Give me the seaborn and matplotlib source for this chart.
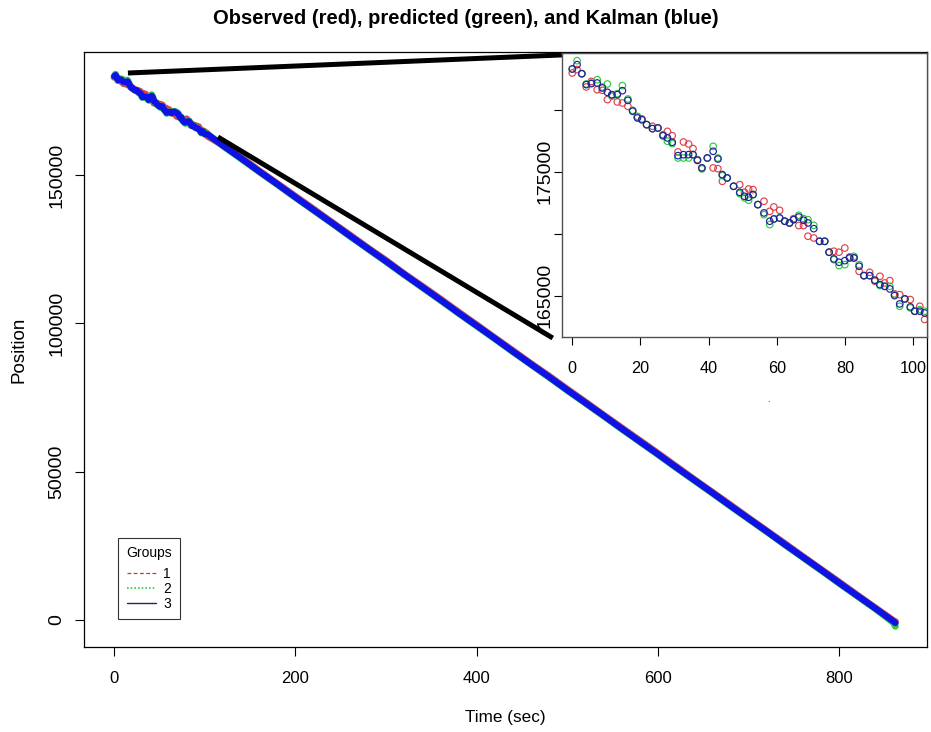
import numpy as np
import pandas as pd
import matplotlib
matplotlib.use("Agg")
import matplotlib.pyplot as plt
from matplotlib.lines import Line2D
import seaborn as sns

sns.set_theme(style="white")
plt.rcParams['font.family'] = ['Liberation Sans', 'DejaVu Sans']
plt.rcParams['text.color'] = 'black'
plt.rcParams['axes.labelcolor'] = 'black'
plt.rcParams['xtick.color'] = 'black'
plt.rcParams['ytick.color'] = 'black'

# ---- first ~100 s of the track (shown in the close-up) ----
time_head = [0.0, 1.4, 2.8, 4.1, 5.6, 7.3, 8.8, 10.3, 11.6, 13.2, 14.7, 16.3, 17.7, 19.1,
             20.4, 21.8, 23.5, 25.1, 26.6, 27.9, 29.3, 31.0, 32.6, 34.1, 35.4, 36.7, 38.0,
             39.6, 41.3, 42.7, 44.0, 45.4, 47.3, 49.1, 50.5, 51.7, 53.0, 54.4, 56.2, 57.9,
             59.1, 60.8, 62.3, 63.7, 64.9, 66.4, 67.8, 69.1, 70.8, 72.5, 74.0, 75.3, 76.7,
             78.2, 79.9, 81.3, 82.6, 84.1, 85.5, 87.2, 88.7, 90.2, 91.6, 93.1, 94.5, 96.0,
             97.5, 99.1, 100.4, 101.9, 103.3]

observed_head = [182960, 183230, 182900, 181830, 182280, 181610, 181560, 180810, 181160, 180620,
                 180540, 180270, 179920, 179410, 179250, 178790, 178660, 178520, 177980, 178250,
                 177900, 176590, 177390, 177230, 176860, 175970, 175300, 176100, 175300, 175240,
                 174220, 174490, 173820, 173950, 173330, 173600, 173550, 172340, 172610, 171800,
                 172150, 171880, 171000, 170860, 171210, 170650, 170650, 169790, 169650, 169380,
                 169380, 168500, 168580, 168500, 168840, 168120, 168040, 166960, 166610, 166880,
                 166160, 166560, 166020, 166210, 165140, 165080, 164730, 164680, 163740, 164140,
                 163070]

predicted_head = [183280, 183950, 182900, 182070, 182150, 182420, 181830, 182070, 181080, 181290,
                  181940, 180860, 179950, 179460, 179190, 178790, 178470, 178520, 177900, 177450,
                  177260, 176100, 176100, 176100, 176370, 175910, 175220, 176100, 177040, 176100,
                  174680, 174490, 173820, 173230, 172880, 172690, 173150, 172340, 171530, 170730,
                  171180, 171260, 171000, 170860, 171130, 171480, 171210, 171130, 170670, 169380,
                  169380, 168500, 167900, 167420, 167500, 168040, 168170, 167500, 166610, 166610,
                  166240, 165810, 165750, 165750, 165080, 164140, 164730, 164010, 163740, 163870,
                  163740]

kalman_head = [183280, 183630, 182900, 182020, 182100, 182150, 181750, 181400, 181210, 181210,
               181530, 180750, 179870, 179330, 179190, 178790, 178470, 178520, 177900, 177720,
               177370, 176290, 176370, 176370, 176370, 175910, 175300, 176100, 176640, 176020,
               174760, 174490, 173820, 173330, 173010, 172930, 173150, 172340, 171670, 171000,
               171180, 171260, 171000, 170860, 171130, 171340, 171080, 170860, 170400, 169380,
               169380, 168500, 167960, 167690, 167820, 168040, 168040, 167370, 166610, 166610,
               166240, 165890, 165750, 165540, 165000, 164330, 164730, 164090, 163740, 163740,
               163600]

# ---- rest of the track ----
time_tail = [120, 140, 160, 180, 200, 220, 240, 260, 280, 300, 320, 340, 360, 380, 400,
             420, 440, 460, 480, 500, 520, 540, 560, 580, 600, 620, 640, 660, 680, 700,
             720, 740, 760, 780, 800, 820, 840, 860, 862]

observed_tail = [160100, 155900, 151300, 147000, 142700, 138400, 134000, 129700, 125300, 121100,
                 116600, 112400, 108100, 103700, 99400, 95000, 90700, 86300, 82100, 77700,
                 73400, 69000, 64700, 60400, 56100, 51700, 47300, 43000, 38700, 34300,
                 30000, 25700, 21300, 17000, 12700, 8300, 4000, -300, -600]

predicted_tail = [159800, 155500, 151100, 146800, 142400, 138100, 133800, 129400, 125100, 120800,
                  116400, 112100, 107800, 103400, 99100, 94800, 90400, 86100, 81800, 77400,
                  73100, 68800, 64400, 60100, 55800, 51400, 47100, 42800, 38400, 34100,
                  29800, 25400, 21100, 16800, 12400, 8100, 3800, -900, -2100]

kalman_tail = [159900, 155600, 151200, 146900, 142500, 138200, 133900, 129500, 125200, 120900,
               116500, 112200, 107900, 103500, 99200, 94900, 90500, 86200, 81900, 77500,
               73200, 68900, 64500, 60200, 55900, 51500, 47200, 42900, 38500, 34200,
               29900, 25500, 21200, 16900, 12500, 8200, 3900, -500, -1000]

# connector segments between the overview and the close-up (data units)
link_top_x = [15.1, 494.0]
link_top_y = [184360, 190450]
link_bottom_x = [114.4, 483.9]
link_bottom_y = [162790, 95040]

legend_title = "Groups"
legend_labels = ["1", "2", "3"]

RED = "#E0404C"
GREEN = "#2ECC40"
BLUE = "#1010E8"

head = pd.DataFrame({"time": time_head, "Observed": observed_head,
                     "Predicted": predicted_head, "Kalman": kalman_head})
tail = pd.DataFrame({"time": time_tail, "Observed": observed_tail,
                     "Predicted": predicted_tail, "Kalman": kalman_tail})
full = pd.concat([head, tail], ignore_index=True)

fig = plt.figure(figsize=(9.31, 7.32), dpi=100)
ax = fig.add_axes([0.0902, 0.1165, 0.9052, 0.8125])

for col, colour, lw in [("Observed", RED, 5.2), ("Predicted", GREEN, 5.0), ("Kalman", BLUE, 4.6)]:
    sns.lineplot(data=full, x="time", y=col, color=colour, lw=lw, sort=False,
                 estimator=None, ax=ax, solid_capstyle="round", solid_joinstyle="round")

ax.plot(link_top_x, link_top_y, color="black", lw=3.6, solid_capstyle="butt")
ax.plot(link_bottom_x, link_bottom_y, color="black", lw=3.6, solid_capstyle="butt")

ax.set_xlim(-33.4, 896.6)
ax.set_ylim(-9000, 191450)
ax.set_xticks([0, 200, 400, 600, 800])
ax.set_yticks([0, 50000, 100000, 150000])
ax.set_yticklabels(["0", "50000", "100000", "150000"], rotation=90, va="center",
                   fontsize=14)
ax.tick_params(axis="both", direction="out", length=6.5, width=0.8, colors="black")
ax.tick_params(axis="x", pad=11, labelsize=12)
ax.tick_params(axis="y", pad=7)
ax.tick_params(bottom=True, left=True)
for s in ax.spines.values():
    s.set_color("black")
    s.set_linewidth(0.9)
ax.set_xlabel("Time (sec)", fontsize=12.3, labelpad=17, color="black")
ax.set_ylabel("Position", fontsize=13.5, labelpad=15, color="black")
ax.grid(False)

handles = [Line2D([], [], color="#C03A3A", ls=(0, (3, 2)), lw=0.9),
           Line2D([], [], color="#33CC33", ls=(0, (1, 1.2)), lw=1.2),
           Line2D([], [], color="#23236E", ls="-", lw=1.0)]
leg = ax.legend(handles, legend_labels, title=legend_title, loc="lower left",
                bbox_to_anchor=(118 / 931, 1 - 619 / 732), bbox_transform=fig.transFigure,
                fontsize=10, title_fontsize=10, frameon=True, fancybox=False,
                edgecolor="black", handlelength=2.1, handletextpad=0.5,
                labelspacing=0.05, borderpad=0.6, borderaxespad=0, labelcolor="black")
leg.get_frame().set_linewidth(0.8)
leg.get_title().set_color("black")
leg._legend_box.sep = 5

fig.suptitle("Observed (red), predicted (green), and Kalman (blue)",
             fontsize=14.5, fontweight="bold", y=1 - 18 / 732, va="center", color="black")

# close-up of the first 100 seconds
axi = fig.add_axes([0.6037, 0.5396, 0.3920, 0.3880])
axi.set_facecolor("white")
for col, colour in [("Observed", RED), ("Predicted", GREEN), ("Kalman", "#2020A0")]:
    sns.scatterplot(data=head, x="time", y=col, ax=axi, marker="o", s=22,
                    facecolors="none", edgecolor=colour, linewidth=0.85)
axi.set_xlim(-3.0, 104.0)
axi.set_ylim(161660, 184570)
axi.set_xticks([0, 20, 40, 60, 80, 100])
axi.set_yticks([165000, 170000, 175000, 180000])
axi.set_yticklabels(["165000", "", "175000", ""], rotation=90, va="center", fontsize=14)
axi.tick_params(axis="both", direction="out", length=5.5, width=0.8, colors="black")
axi.tick_params(axis="x", pad=12, labelsize=11.7)
axi.tick_params(axis="y", pad=1)
axi.tick_params(bottom=True, left=True)
axi.set_xlabel("")
axi.set_ylabel("")
for s in axi.spines.values():
    s.set_color("#505050")
    s.set_linewidth(1.0)
fig.text(768 / 931, 1 - 400 / 732, ".", fontsize=6, ha="center", va="center")

fig.savefig("out.png", dpi=100)
